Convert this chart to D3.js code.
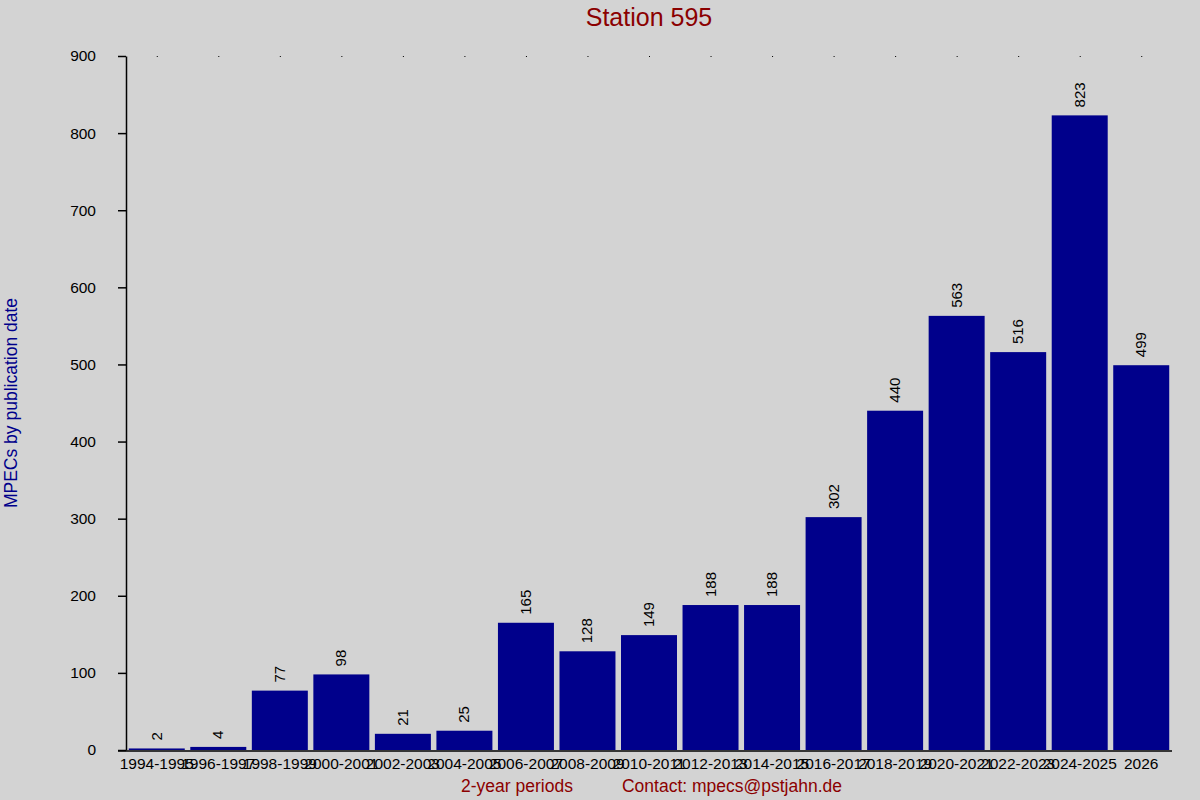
<!DOCTYPE html><html><head><meta charset="utf-8">
<script src="https://cdn.jsdelivr.net/npm/d3@7"></script>
<style>body{margin:0;background:#d3d3d3}svg{display:block}text{font-family:"Liberation Sans",Arial,sans-serif}</style></head><body>
<svg id="c" width="1200" height="800"></svg>
<script>
const categories=["1994-1995","1996-1997","1998-1999","2000-2001","2002-2003","2004-2005","2006-2007","2008-2009","2010-2011","2012-2013","2014-2015","2016-2017","2018-2019","2020-2021","2022-2023","2024-2025","2026"];
const values=[2,4,77,98,21,25,165,128,149,188,188,302,440,563,516,823,499];
const yTicks=[0,100,200,300,400,500,600,700,800,900];
const svg=d3.select("#c");
svg.append("rect").attr("width",1200).attr("height",800).attr("fill","#d3d3d3");
const L=126,R=1172,T=56,B=750;
const x=d3.scaleBand().domain(categories).range([L,R]).paddingInner(0.09).paddingOuter(0.045);
const y=d3.scaleLinear().domain([0,900]).range([B,T]);
svg.selectAll(".dot").data(categories).join("rect").attr("x",d=>x(d)+x.bandwidth()/2).attr("y",T).attr("width",1).attr("height",1).attr("fill","#000");
svg.selectAll(".bar").data(values).join("rect").attr("x",(d,i)=>x(categories[i])).attr("y",d=>y(d)).attr("width",x.bandwidth()).attr("height",d=>B-y(d)).attr("fill","#00008b");
svg.selectAll(".vl").data(values).join("text").attr("transform",(d,i)=>`translate(${x(categories[i])+x.bandwidth()/2+5},${y(d)-8}) rotate(-90)`).style("font-size","15px").attr("fill","#000").text(d=>d);
const ya=svg.append("g").attr("transform",`translate(${L},0)`).call(d3.axisLeft(y).tickValues(yTicks).tickSize(8).tickSizeOuter(0).tickPadding(22));
ya.selectAll("text").style("font-size","15.5px").attr("fill","#000");
ya.selectAll("line,path").attr("stroke","#000").attr("stroke-width",1.5);
const xa=svg.append("g").attr("transform",`translate(0,${B+1})`).call(d3.axisBottom(x).tickSize(0).tickPadding(7));
xa.select("path").attr("d",`M${L-8},0H${R}`).attr("stroke","#000").attr("stroke-width",1.5);
xa.selectAll("text").style("font-size","15.5px").attr("fill","#000");
svg.append("text").attr("x",649).attr("y",26).attr("text-anchor","middle").style("font-size","25px").attr("fill","#8b0000").text("Station 595");
svg.append("text").attr("x",517).attr("y",792).attr("text-anchor","middle").style("font-size","17.5px").attr("fill","#8b0000").text("2-year periods");
svg.append("text").attr("x",732).attr("y",792).attr("text-anchor","middle").style("font-size","17.5px").attr("fill","#8b0000").text("Contact: mpecs@pstjahn.de");
svg.append("text").attr("transform","translate(17,403) rotate(-90)").attr("text-anchor","middle").style("font-size","17.5px").attr("fill","#00008b").text("MPECs by publication date");
</script></body></html>
